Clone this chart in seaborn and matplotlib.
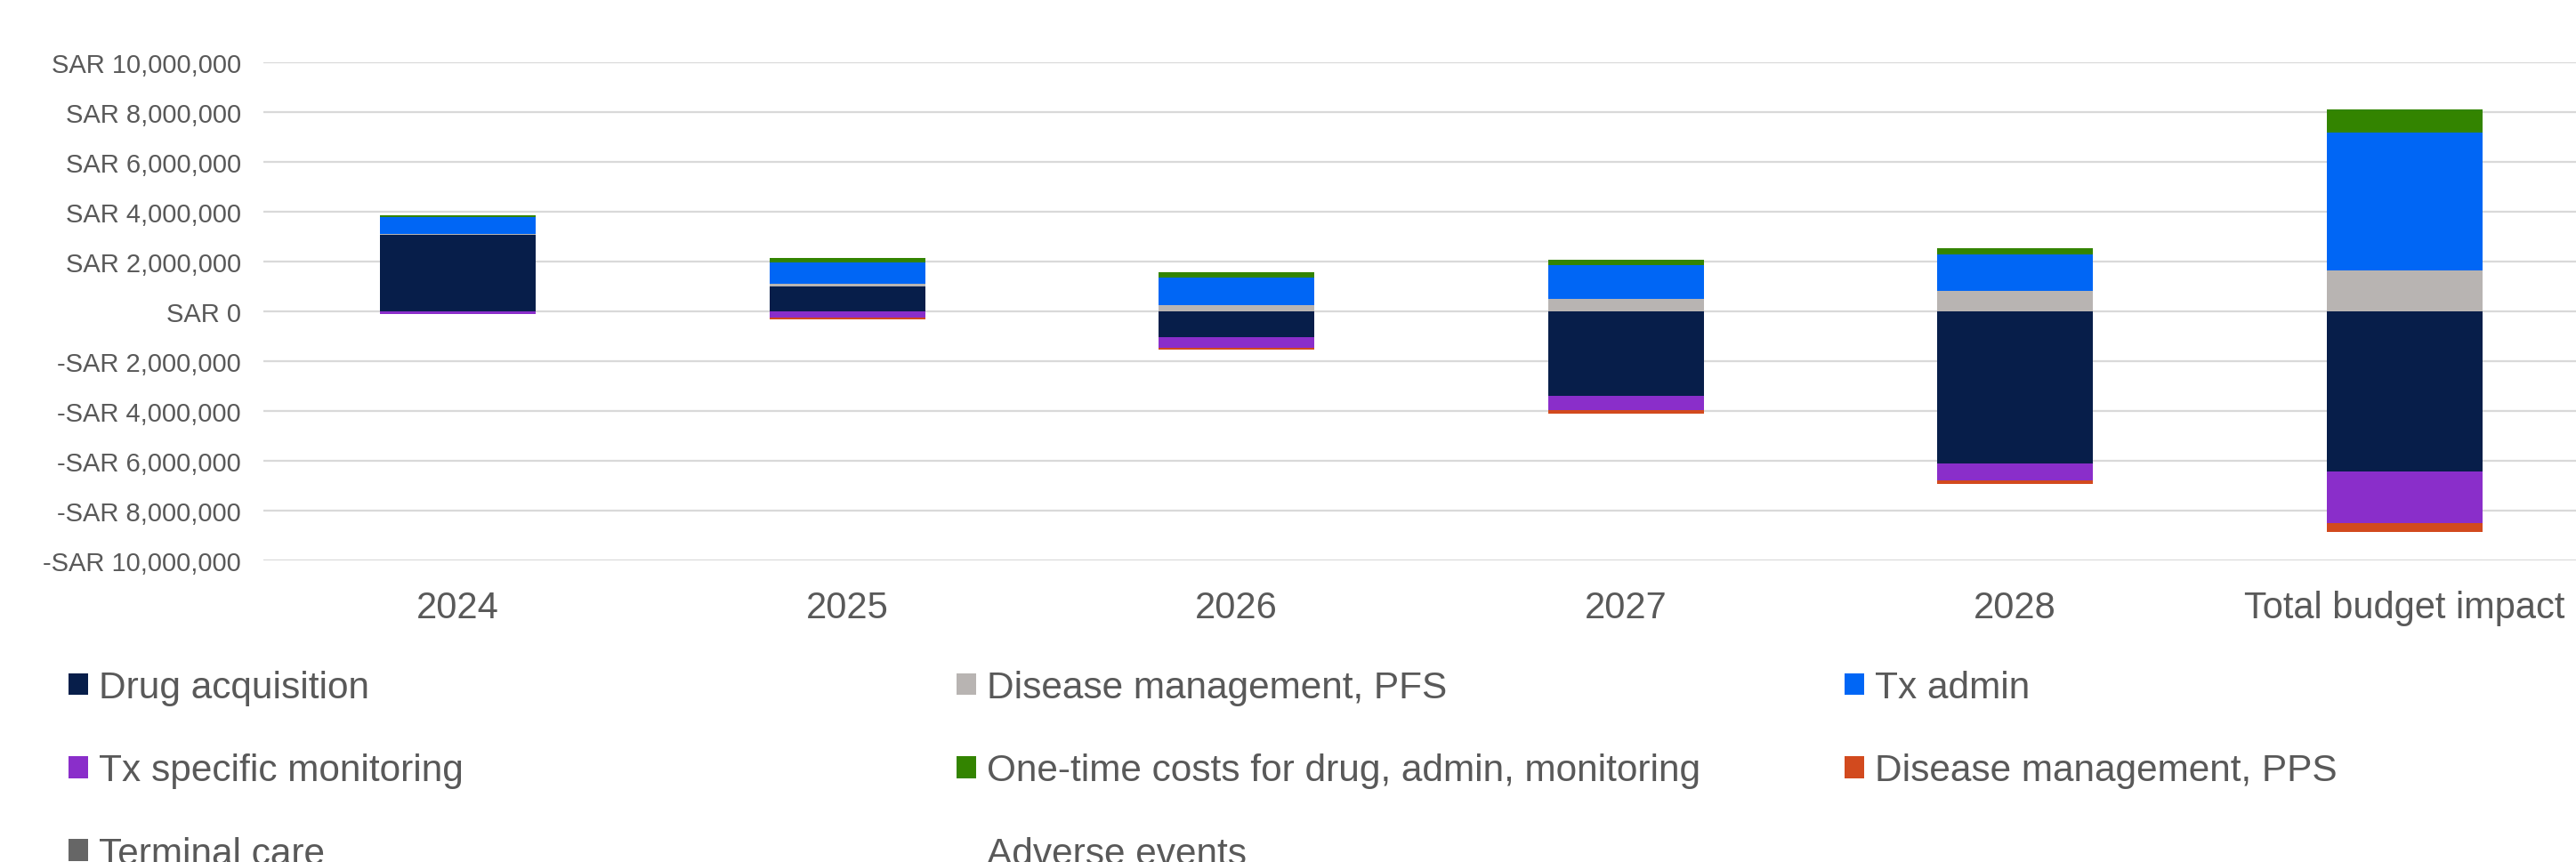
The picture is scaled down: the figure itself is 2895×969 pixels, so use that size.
import numpy as np
import pandas as pd
import matplotlib
matplotlib.use("Agg")
import matplotlib.pyplot as plt
from matplotlib.patches import Patch
from matplotlib.ticker import FuncFormatter, MultipleLocator
import seaborn as sns

# ---------------- data (SAR, millions) ----------------
categories = ["2024", "2025", "2026", "2027", "2028", "Total budget impact"]
series_names = [
    "Drug acquisition",
    "Disease management, PFS",
    "Tx admin",
    "Tx specific monitoring",
    "One-time costs for drug, admin, monitoring",
    "Disease management, PPS",
    "Terminal care",
    "Adverse events",
]
drug_acquisition = [3.07, 1.00, -1.04, -3.39, -6.12, -6.43]
dm_pfs = [0.02, 0.11, 0.24, 0.50, 0.82, 1.65]
tx_admin = [0.68, 0.87, 1.13, 1.35, 1.45, 5.54]
tx_monitoring = [-0.10, -0.26, -0.42, -0.59, -0.67, -2.07]
one_time = [0.09, 0.17, 0.19, 0.22, 0.27, 0.91]
dm_pps = [-0.02, -0.06, -0.08, -0.12, -0.14, -0.36]
terminal_care = [0.0, 0.0, 0.0, 0.0, 0.0, 0.0]
adverse_events = [0.0, 0.0, 0.0, 0.0, 0.0, 0.0]

series_values = [drug_acquisition, dm_pfs, tx_admin, tx_monitoring,
                 one_time, dm_pps, terminal_care, adverse_events]
colors = ["#071E4A", "#B8B4B2", "#0066F5", "#8A2ECA",
          "#338400", "#D24A1E", "#666666", "none"]

# ---------------- figure ----------------
sns.set_theme(style="white")
plt.rcParams["font.family"] = ["Liberation Sans", "DejaVu Sans"]
TXT = "#595959"

fig = plt.figure(figsize=(28.95, 9.70), dpi=100)
ax = fig.add_axes([296 / 2895, 1 - 631 / 970, 2625 / 2895, 560 / 970])

vals = np.array(series_values) * 1e6
pos_cum = np.cumsum(np.where(vals > 0, vals, 0), axis=0)
neg_cum = np.cumsum(np.where(vals < 0, vals, 0), axis=0)
heights = np.where(vals < 0, neg_cum, pos_cum)

# draw cumulative bars from the last series to the first so each layer overlays
for i in range(len(series_names) - 1, -1, -1):
    if colors[i] == "none":
        continue
    df = pd.DataFrame({"category": categories, "value": heights[i]})
    sns.barplot(data=df, x="category", y="value", order=categories,
                color=colors[i], saturation=1, width=0.4, errorbar=None,
                linewidth=0, ax=ax, zorder=3)

ax.set_xlim(-0.5, len(categories) - 0.5)
ax.set_ylim(-10e6, 10e6)
ax.yaxis.set_major_locator(MultipleLocator(2e6))


def sar(v, _):
    v = int(round(v))
    if v < 0:
        return "-SAR {:,}".format(-v)
    return "SAR {:,}".format(v)


ax.yaxis.set_major_formatter(FuncFormatter(sar))
ax.grid(axis="y", color="#D9D9D9", linewidth=1.6, zorder=0)
ax.grid(axis="x", visible=False)
ax.set_axisbelow(True)
for s in ax.spines.values():
    s.set_visible(False)
ax.set_xlabel("")
ax.set_ylabel("")
ax.tick_params(axis="y", length=0, pad=18, labelsize=21, labelcolor=TXT)
ax.tick_params(axis="x", length=0, pad=24, labelsize=30, labelcolor=TXT)

# ---------------- legend (three columns, row-wise order) ----------------
handles = [Patch(facecolor=c, edgecolor="none") for c in colors]
col_x = [77 / 2895, 1075 / 2895, 2073 / 2895]
for c in range(3):
    idx = list(range(c, len(series_names), 3))
    leg = fig.legend([handles[i] for i in idx], [series_names[i] for i in idx],
                     loc="upper left", bbox_to_anchor=(col_x[c], 1 - 754 / 970),
                     ncol=1, frameon=False, fontsize=30.5, labelcolor=TXT,
                     handlelength=0.52, handleheight=0.52, handletextpad=0.28,
                     labelspacing=1.26, borderpad=0, borderaxespad=0)

fig.savefig("out.png", dpi=100)
